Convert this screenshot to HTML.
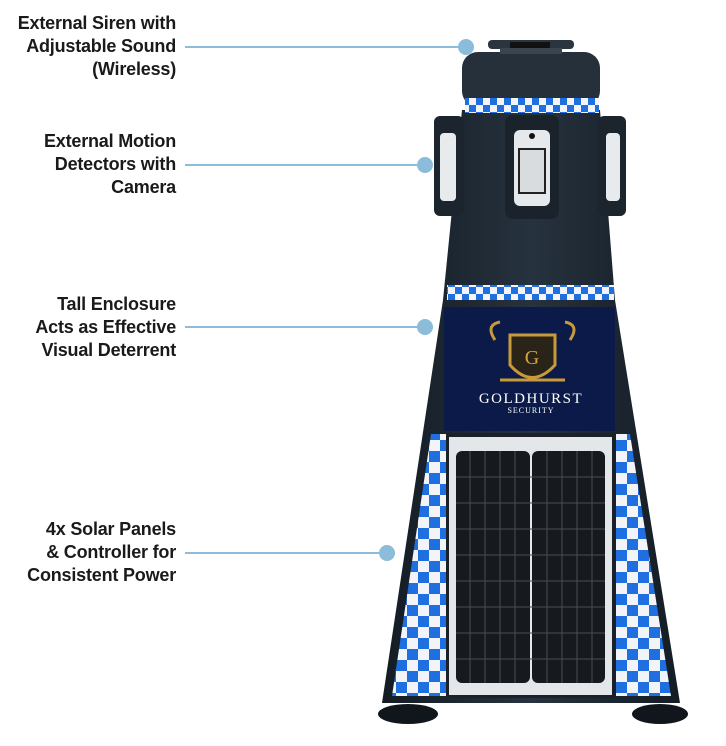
<!DOCTYPE html>
<html><head><meta charset="utf-8"><style>
html,body{margin:0;padding:0;background:#fff;}
.w{position:relative;width:726px;height:746px;overflow:hidden;}
.lbl{position:absolute;right:550px;text-align:right;font:bold 18px/23px "Liberation Sans",sans-serif;color:#1a1a1a;white-space:nowrap;letter-spacing:-0.2px;}
svg{position:absolute;left:0;top:0;}
</style></head><body><div class="w">
<svg width="726" height="746" viewBox="0 0 726 746">
<defs>
<pattern id="ck" width="14" height="14" patternUnits="userSpaceOnUse">
<rect width="14" height="14" fill="#f2f4f8"/><rect width="7" height="7" fill="#1f6fe0"/><rect x="7" y="7" width="7" height="7" fill="#1f6fe0"/>
</pattern>
<pattern id="ck2" width="22" height="22" patternUnits="userSpaceOnUse">
<rect width="22" height="22" fill="#f2f4f8"/><rect width="11" height="11" fill="#1f6fe0"/><rect x="11" y="11" width="11" height="11" fill="#1f6fe0"/>
</pattern>
<linearGradient id="bd" x1="0" x2="1"><stop offset="0" stop-color="#141c24"/><stop offset="0.5" stop-color="#26323e"/><stop offset="1" stop-color="#141c24"/></linearGradient>
</defs>
<!-- feet -->
<ellipse cx="408" cy="714" rx="30" ry="10" fill="#10161c"/>
<ellipse cx="660" cy="714" rx="28" ry="10" fill="#10161c"/>
<!-- main body -->
<path d="M462 110 L600 110 L615 300 L680 703 L382 703 L443 300 Z" fill="url(#bd)"/>
<!-- head -->
<rect x="462" y="52" width="138" height="55" rx="16" fill="#25303b"/>
<rect x="488" y="40" width="86" height="9" rx="4" fill="#2a3540"/>
<rect x="510" y="42" width="40" height="8" fill="#111"/>
<rect x="500" y="48" width="62" height="6" fill="#3a4550"/>
<!-- top band -->
<rect x="465" y="98" width="134" height="15" fill="url(#ck)"/>
<!-- side pods -->
<rect x="434" y="116" width="30" height="100" rx="6" fill="#1c252e"/>
<rect x="440" y="133" width="16" height="68" rx="4" fill="#e8ebee"/>
<rect x="598" y="116" width="28" height="100" rx="6" fill="#1c252e"/>
<rect x="606" y="133" width="14" height="68" rx="4" fill="#e8ebee"/>
<!-- camera -->
<rect x="505" y="115" width="54" height="104" rx="8" fill="#1a232c"/>
<rect x="514" y="130" width="36" height="76" rx="6" fill="#e6e9ec"/>
<circle cx="532" cy="136" r="3" fill="#111"/>
<rect x="518" y="148" width="28" height="46" fill="#222"/>
<rect x="520" y="150" width="24" height="42" fill="#d8dcdf"/>
<!-- lower band -->
<rect x="447" y="285" width="167" height="15" fill="url(#ck)"/>
<!-- navy logo panel -->
<rect x="444" y="307" width="171" height="124" fill="#0b1a48"/>
<path d="M510 335 L555 335 L555 365 Q532 390 510 365 Z" fill="#2a2418" stroke="#c99a3a" stroke-width="3"/>
<path d="M495 340 Q485 325 500 322 M570 340 Q580 325 565 322 M500 380 L565 380" stroke="#c99a3a" stroke-width="3" fill="none"/>
<text x="532" y="364" text-anchor="middle" font-family="Liberation Serif,serif" font-size="20" fill="#d4a444">G</text>
<text x="531" y="403" text-anchor="middle" font-family="Liberation Serif,serif" font-size="15" letter-spacing="1.5" fill="#fff">GOLDHURST</text>
<text x="531" y="413" text-anchor="middle" font-family="Liberation Serif,serif" font-size="8" letter-spacing="1" fill="#fff">SECURITY</text>
<!-- checker strips -->
<path d="M431 434 L446 434 L446 696 L392 696 Z" fill="url(#ck2)"/>
<path d="M615 434 L630 434 L671 696 L615 696 Z" fill="url(#ck2)"/>
<!-- solar panel -->
<rect x="446" y="433" width="170" height="265" fill="#1b2128"/>
<rect x="449" y="437" width="163" height="258" fill="#e4e7ea"/>
<rect x="456" y="451" width="74" height="232" rx="6" fill="#16191d"/>
<rect x="532" y="451" width="73" height="232" rx="6" fill="#16191d"/>
<g stroke="#4a5058" stroke-width="1">
<path d="M456 477H605M456 503H605M456 529H605M456 555H605M456 581H605M456 607H605M456 633H605M456 659H605"/>
<path d="M470 451V683M485 451V683M500 451V683M515 451V683M547 451V683M562 451V683M577 451V683M592 451V683"/>
</g>
<!-- connectors -->
<g stroke="#8bbcd9" stroke-width="2">
<line x1="185" y1="47" x2="466" y2="47"/>
<line x1="185" y1="165" x2="425" y2="165"/>
<line x1="185" y1="327" x2="425" y2="327"/>
<line x1="185" y1="553" x2="387" y2="553"/>
</g>
<g fill="#8bbcd9">
<circle cx="466" cy="47" r="8"/>
<circle cx="425" cy="165" r="8"/>
<circle cx="425" cy="327" r="8"/>
<circle cx="387" cy="553" r="8"/>
</g>
</svg>
<div class="lbl" style="top:12px">External Siren with<br>Adjustable Sound<br>(Wireless)</div>
<div class="lbl" style="top:130px">External Motion<br>Detectors with<br>Camera</div>
<div class="lbl" style="top:293px">Tall Enclosure<br>Acts as Effective<br>Visual Deterrent</div>
<div class="lbl" style="top:518px">4x Solar Panels<br>&amp; Controller for<br>Consistent Power</div>
</div></body></html>
